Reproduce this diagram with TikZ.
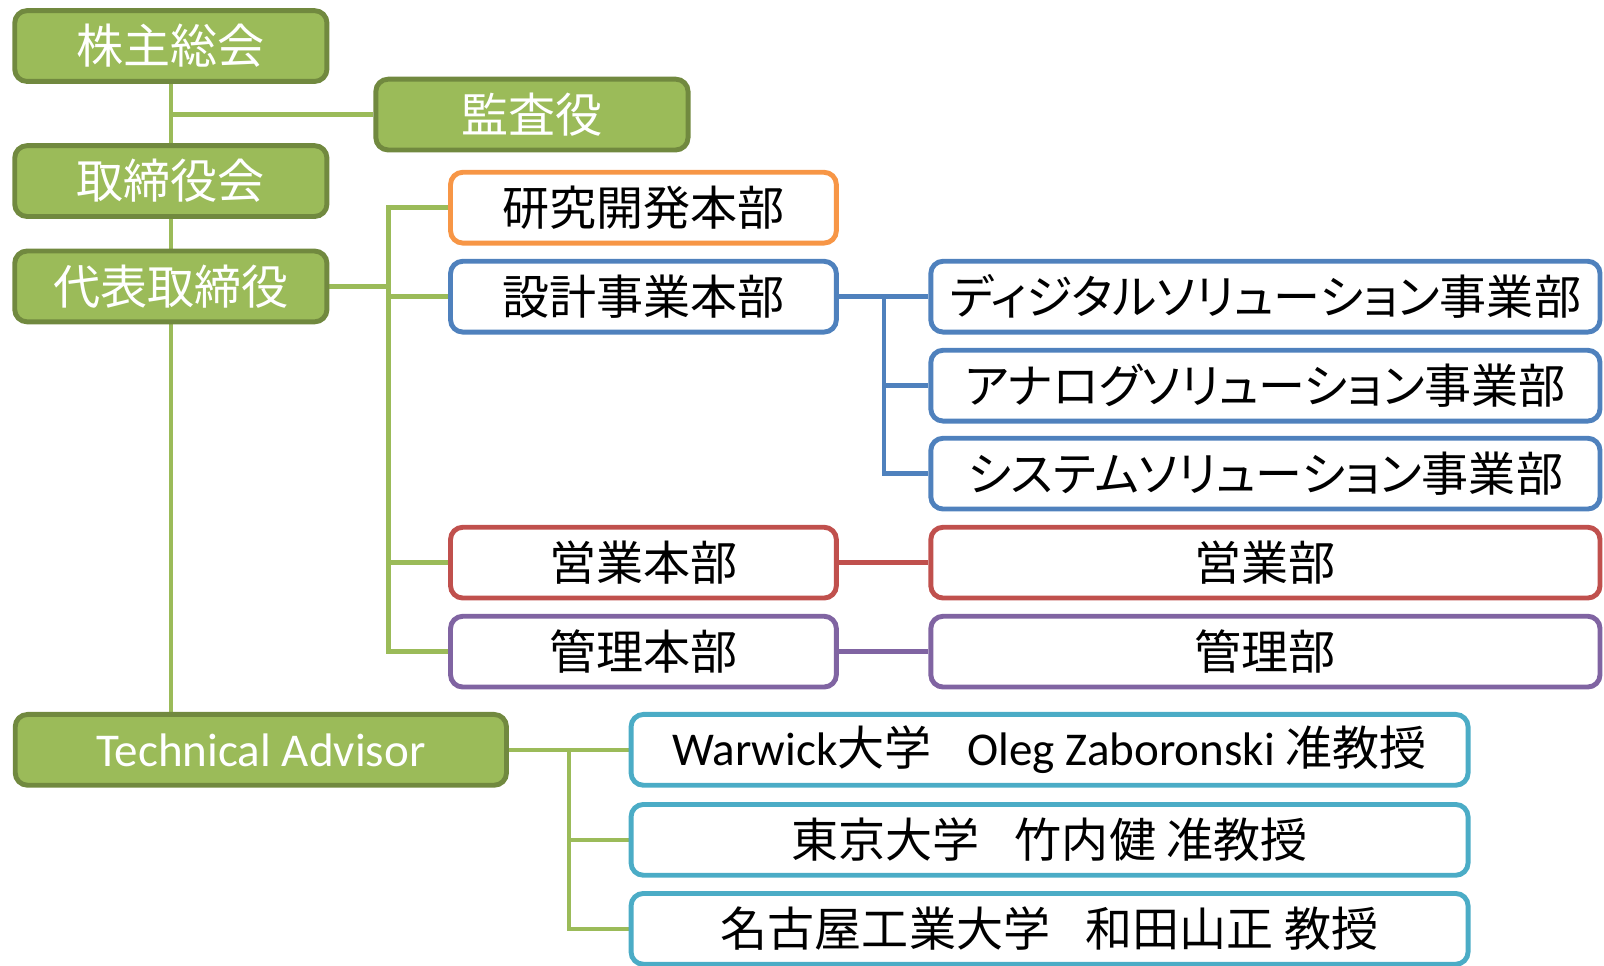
\documentclass[tikz,border=0pt]{standalone}
\usepackage{fontspec}
\setmainfont{Noto Sans CJK JP}[RawFeature=+palt]
\newfontfamily\lat{Carlito}
\usetikzlibrary{backgrounds}
\definecolor{gfill}{HTML}{9BBB59}
\definecolor{gdraw}{HTML}{71893F}
\definecolor{cor}{HTML}{F79646}
\definecolor{cbl}{HTML}{4F81BD}
\definecolor{cre}{HTML}{C0504D}
\definecolor{cpu}{HTML}{8064A2}
\definecolor{ccy}{HTML}{4BACC6}
\newcommand{\gapsp}{\hspace{0.75em}}
\begin{document}
\begin{tikzpicture}[x=0.5pt,y=-0.5pt,
  box/.style={rectangle, rounded corners=6pt, line width=2.4pt, minimum height=34.6pt,
    inner sep=0pt, fill=white, text=black, font=\fontsize{23}{23}\selectfont},
  gbox/.style={box, fill=gfill, draw=gdraw, text=white, minimum width=152.6pt},
  hbox/.style={box, minimum width=188.6pt},
  rbox/.style={box, minimum width=327.1pt},
  ubox/.style={box, draw=ccy, minimum width=409.1pt},
  conn/.style={line width=2.2pt}]
\useasboundingbox (0,0) rectangle (1568,944);
% green column
\node[gbox] (kabu) at (167,45) {株主総会};
\node[gbox] (kansa) at (520,112) {監査役};
\node[gbox] (tori) at (167,177) {取締役会};
\node[gbox] (daihyo) at (167,280) {代表取締役};
\node[gbox, minimum width=240.1pt] (tech) at (255,733) {\lat Technical Advisor};
% headquarters
\node[hbox, draw=cor] (kenkyu) at (629,203) {研究開発本部};
\node[hbox, draw=cbl] (sekkei) at (629,290) {設計事業本部};
\node[hbox, draw=cre] (eigyo) at (629,550) {営業本部};
\node[hbox, draw=cpu] (kanri) at (629,637) {管理本部};
% divisions
\node[rbox, draw=cbl] (digital) at (1237,290) {ディジタルソリューション事業部};
\node[rbox, draw=cbl] (analog) at (1237,377) {アナログソリューション事業部};
\node[rbox, draw=cbl] (system) at (1237,463) {システムソリューション事業部};
\node[rbox, draw=cre] (eigyobu) at (1237,550) {営業部};
\node[rbox, draw=cpu] (kanribu) at (1237,637) {管理部};
% advisors
\node[ubox] (warwick) at (1026,733) {{\lat Warwick}大学\gapsp{\lat Oleg Zaboronski} 准教授};
\node[ubox] (tokyo) at (1026,821) {東京大学\gapsp 竹内健 准教授};
\node[ubox] (nagoya) at (1026,908) {名古屋工業大学\gapsp 和田山正 教授};
% bus coordinates
\coordinate (busA) at (380,0);
\coordinate (busB) at (864,0);
\coordinate (busC) at (556,0);
\begin{pgfonlayer}{background}
  \draw[conn, gfill] (kabu.south) -- (kabu.south |- tech.north);
  \draw[conn, gfill] (kansa.west) -- (kansa.west -| kabu.south);
  \draw[conn, gfill] (daihyo.east) -- (daihyo.east -| busA);
  \draw[conn, gfill] (kenkyu.west) -- (kenkyu.west -| busA) -- (kanri.west -| busA) -- (kanri.west);
  \draw[conn, gfill] (sekkei.west) -- (sekkei.west -| busA);
  \draw[conn, gfill] (eigyo.west) -- (eigyo.west -| busA);
  \draw[conn, cbl] (sekkei.east) -- (digital.west);
  \draw[conn, cbl] (digital.west -| busB) -- (system.west -| busB) -- (system.west);
  \draw[conn, cbl] (analog.west) -- (analog.west -| busB);
  \draw[conn, cre] (eigyo.east) -- (eigyobu.west);
  \draw[conn, cpu] (kanri.east) -- (kanribu.west);
  \draw[conn, gfill] (tech.east) -- (warwick.west);
  \draw[conn, gfill] (warwick.west -| busC) -- (nagoya.west -| busC) -- (nagoya.west);
  \draw[conn, gfill] (tokyo.west) -- (tokyo.west -| busC);
\end{pgfonlayer}
\end{tikzpicture}
\end{document}
